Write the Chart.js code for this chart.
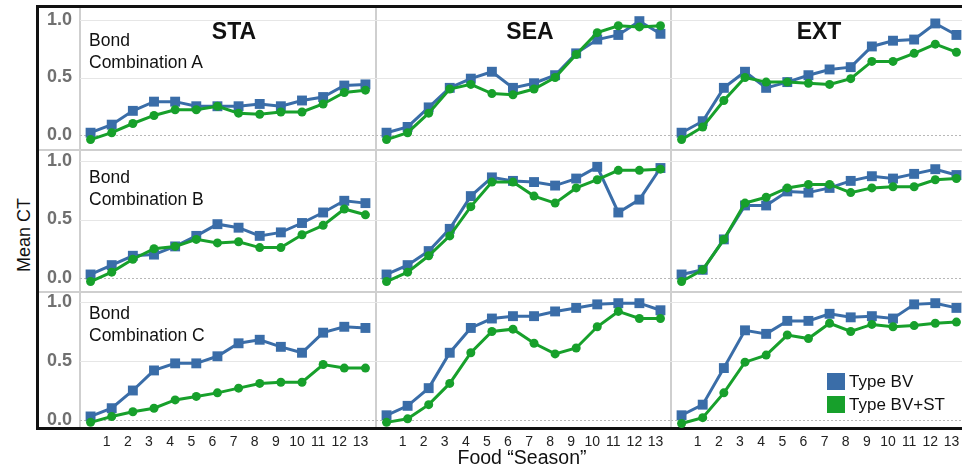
<!DOCTYPE html>
<html>
<head>
<meta charset="utf-8">
<script src="https://cdn.jsdelivr.net/npm/chart.js@4.4.1/dist/chart.umd.min.js"></script>
<style>
  html, body { margin: 0; padding: 0; background: #fff; }
  body { width: 962px; height: 471px; position: relative; overflow: hidden;
         font-family: "Liberation Sans", Arial, sans-serif; color: #111; }
  .abs { position: absolute; }
  canvas { position: absolute; }
  #frame { position: absolute; left: 36px; top: 5px; width: 960px; height: 425px;
           border: 3px solid #111; box-sizing: border-box; }
  .vsep { position: absolute; width: 1.5px; background: #cfcfcf; }
  .hsep { position: absolute; height: 1.5px; background: #cfcfcf; }
  .coltitle { position: absolute; font-weight: bold; font-size: 23px; transform: translate(-50%, -50%); white-space: nowrap; }
  .rowlabel { position: absolute; font-size: 17.5px; line-height: 22px; color: #111; white-space: nowrap; }
  .legend { position: absolute; left: 827px; font-size: 17px; line-height: 18px; white-space: nowrap; }
  .legend span.sw { display: inline-block; width: 18px; height: 17px; vertical-align: -3px; margin-right: 4px; }
</style>
</head>
<body>
<div id="frame"></div>
<div id="seps"></div>
<div id="charts"></div>

<div class="coltitle" style="left:234px; top:31px;">STA</div>
<div class="coltitle" style="left:530px; top:31px;">SEA</div>
<div class="coltitle" style="left:819px; top:31px;">EXT</div>

<div class="rowlabel" style="left:89px; top:29px;">Bond<br>Combination A</div>
<div class="rowlabel" style="left:89px; top:166px;">Bond<br>Combination B</div>
<div class="rowlabel" style="left:89px; top:302px;">Bond<br>Combination C</div>

<div class="abs" style="left:24px; top:235px; transform: translate(-50%,-50%) rotate(-90deg); font-size:18px; white-space:nowrap;">Mean CT</div>
<div class="abs" style="left:522px; top:457px; transform: translate(-50%,-50%); font-size:19.5px; white-space:nowrap;">Food “Season”</div>

<div class="legend" style="top:373px;"><span class="sw" style="background:#3a6da8"></span>Type BV</div>
<div class="legend" style="top:396px;"><span class="sw" style="background:#17a02b"></span>Type BV+ST</div>

<script>
// Food seasons: the first point (start) carries no label
const seasons = ['', '1', '2', '3', '4', '5', '6', '7', '8', '9', '10', '11', '12', '13'];
const yTicks = [0, 0.5, 1.0];

// Bond combination A
const staA_BV   = [0.02, 0.09, 0.21, 0.29, 0.29, 0.25, 0.25, 0.25, 0.27, 0.25, 0.30, 0.33, 0.43, 0.44];
const staA_BVST = [-0.04, 0.02, 0.10, 0.17, 0.22, 0.22, 0.25, 0.19, 0.18, 0.20, 0.20, 0.27, 0.37, 0.39];
const seaA_BV   = [0.02, 0.07, 0.24, 0.41, 0.49, 0.55, 0.41, 0.45, 0.52, 0.71, 0.83, 0.87, 0.99, 0.88];
const seaA_BVST = [-0.04, 0.02, 0.19, 0.40, 0.44, 0.36, 0.35, 0.40, 0.50, 0.70, 0.89, 0.95, 0.94, 0.95];
const extA_BV   = [0.02, 0.12, 0.41, 0.55, 0.41, 0.46, 0.52, 0.57, 0.59, 0.77, 0.82, 0.83, 0.97, 0.87];
const extA_BVST = [-0.04, 0.07, 0.30, 0.50, 0.46, 0.46, 0.45, 0.44, 0.49, 0.64, 0.64, 0.71, 0.79, 0.72];

// Bond combination B
const staB_BV   = [0.03, 0.11, 0.19, 0.20, 0.27, 0.36, 0.46, 0.43, 0.36, 0.39, 0.47, 0.56, 0.66, 0.64];
const staB_BVST = [-0.03, 0.05, 0.16, 0.25, 0.27, 0.33, 0.30, 0.31, 0.26, 0.26, 0.37, 0.45, 0.59, 0.54];
const seaB_BV   = [0.03, 0.11, 0.23, 0.42, 0.70, 0.86, 0.83, 0.82, 0.79, 0.85, 0.95, 0.56, 0.67, 0.94];
const seaB_BVST = [-0.03, 0.05, 0.19, 0.36, 0.61, 0.82, 0.82, 0.70, 0.64, 0.77, 0.84, 0.92, 0.92, 0.93];
const extB_BV   = [0.03, 0.07, 0.33, 0.62, 0.62, 0.74, 0.73, 0.77, 0.83, 0.87, 0.85, 0.89, 0.93, 0.88];
const extB_BVST = [-0.03, 0.07, 0.33, 0.64, 0.69, 0.77, 0.80, 0.80, 0.73, 0.77, 0.78, 0.78, 0.84, 0.85];

// Bond combination C
const staC_BV   = [0.03, 0.10, 0.25, 0.42, 0.48, 0.48, 0.54, 0.65, 0.68, 0.62, 0.57, 0.74, 0.79, 0.78];
const staC_BVST = [-0.02, 0.03, 0.07, 0.10, 0.17, 0.20, 0.23, 0.27, 0.31, 0.32, 0.32, 0.47, 0.44, 0.44];
const seaC_BV   = [0.04, 0.12, 0.27, 0.57, 0.78, 0.86, 0.88, 0.88, 0.92, 0.95, 0.98, 0.99, 0.99, 0.93];
const seaC_BVST = [-0.02, 0.01, 0.13, 0.31, 0.57, 0.75, 0.77, 0.65, 0.56, 0.61, 0.79, 0.92, 0.86, 0.86];
const extC_BV   = [0.04, 0.13, 0.44, 0.76, 0.73, 0.84, 0.84, 0.90, 0.87, 0.88, 0.86, 0.98, 0.99, 0.95];
const extC_BVST = [-0.03, 0.02, 0.23, 0.49, 0.55, 0.72, 0.69, 0.82, 0.75, 0.81, 0.79, 0.80, 0.82, 0.83];

const grid3x3 = [
  [[staA_BV, staA_BVST], [seaA_BV, seaA_BVST], [extA_BV, extA_BVST]],
  [[staB_BV, staB_BVST], [seaB_BV, seaB_BVST], [extB_BV, extB_BVST]],
  [[staC_BV, staC_BVST], [seaC_BV, seaC_BVST], [extC_BV, extC_BVST]]
];

// Panel geometry (page pixels)
const FRAME_LEFT = 39;
const XAXIS_H = 34;
const COLS = [{ l: 80, r: 376 }, { l: 376, r: 671 }, { l: 671, r: 967 }];
const ROWS = [
  { t: 8,   b: 150, zero: 135, one: 20 },
  { t: 150, b: 292, zero: 278, one: 161 },
  { t: 292, b: 427, zero: 420, one: 302 }
];
const BLUE = '#3a6da8';
const GREEN = '#17a02b';
const FONT = '"Liberation Sans", Arial, sans-serif';

// Panel separators
const seps = document.getElementById('seps');
[80, 376, 671].forEach(x => {
  const d = document.createElement('div');
  d.className = 'vsep';
  d.style.left = (x - 0.75) + 'px'; d.style.top = '8px'; d.style.height = '419px';
  seps.appendChild(d);
});
[150, 292].forEach(y => {
  const d = document.createElement('div');
  d.className = 'hsep';
  d.style.left = FRAME_LEFT + 'px'; d.style.top = (y - 0.75) + 'px'; d.style.width = '930px';
  seps.appendChild(d);
});

// Horizontal reference lines: light at 0.5 and 1.0, dotted at zero
const panelGrid = {
  id: 'panelGrid',
  beforeDatasetsDraw(chart) {
    const { ctx, chartArea, scales } = chart;
    const y = scales.y;
    ctx.save();
    ctx.lineWidth = 1;
    yTicks.forEach(v => {
      const py = Math.round(y.getPixelForValue(v)) + 0.5;
      ctx.beginPath();
      if (v === 0) { ctx.setLineDash([2, 2]); ctx.strokeStyle = '#b8b8b8'; }
      else { ctx.setLineDash([]); ctx.strokeStyle = '#e6e6e6'; }
      ctx.moveTo(chartArea.left, py);
      ctx.lineTo(chartArea.right, py);
      ctx.stroke();
    });
    ctx.restore();
  }
};

const holder = document.getElementById('charts');
for (let r = 0; r < 3; r++) {
  for (let c = 0; c < 3; c++) {
    const row = ROWS[r], col = COLS[c];
    const left = c === 0 ? FRAME_LEFT : col.l;
    const width = col.r - left;
    const xAxisH = r === 2 ? XAXIS_H : 0;
    const height = (row.b - row.t) + xAxisH;
    const yAxisW = col.l - left;
    const span = row.zero - row.one;
    const yMin = (row.zero - row.b) / span;
    const yMax = (row.zero - row.t) / span;

    const cv = document.createElement('canvas');
    cv.width = width; cv.height = height;
    cv.style.left = left + 'px'; cv.style.top = row.t + 'px';
    cv.style.width = width + 'px'; cv.style.height = height + 'px';
    holder.appendChild(cv);

    const [bv, bvst] = grid3x3[r][c];
    new Chart(cv, {
      type: 'line',
      data: {
        labels: seasons,
        datasets: [
          { label: 'Type BV', data: bv, borderColor: BLUE, backgroundColor: BLUE,
            pointBackgroundColor: BLUE, pointBorderWidth: 0, pointStyle: 'rect', pointRadius: 7,
            borderWidth: 3, tension: 0, order: 1, clip: false },
          { label: 'Type BV+ST', data: bvst, borderColor: GREEN, backgroundColor: GREEN,
            pointBackgroundColor: GREEN, pointBorderWidth: 0, pointStyle: 'circle', pointRadius: 4.5,
            borderWidth: 3, tension: 0, order: 0, clip: false }
        ]
      },
      options: {
        responsive: false,
        animation: false,
        events: [],
        layout: { padding: 0, autoPadding: false },
        plugins: { legend: { display: false }, tooltip: { enabled: false }, title: { display: false } },
        scales: {
          x: {
            type: 'category', offset: true, display: r === 2,
            grid: { display: false, drawTicks: false }, border: { display: false },
            ticks: { autoSkip: false, maxRotation: 0, minRotation: 0, padding: 7, labelOffset: -5,
                     color: '#222', font: { family: FONT, size: 14 } },
            afterFit: a => { a.height = xAxisH; a.paddingLeft = 0; a.paddingRight = 0; }
          },
          y: {
            type: 'linear', min: yMin, max: yMax, display: c === 0,
            grid: { display: false, drawTicks: false }, border: { display: false },
            ticks: { padding: 8, color: '#707070', font: { family: FONT, size: 18, weight: 'bold' },
                     callback: v => Number(v).toFixed(1) },
            afterBuildTicks: a => { a.ticks = yTicks.map(v => ({ value: v })); },
            afterFit: a => { a.width = yAxisW; a.paddingTop = 0; a.paddingBottom = 0; }
          }
        }
      },
      plugins: [panelGrid]
    });
  }
}
</script>
</body>
</html>
